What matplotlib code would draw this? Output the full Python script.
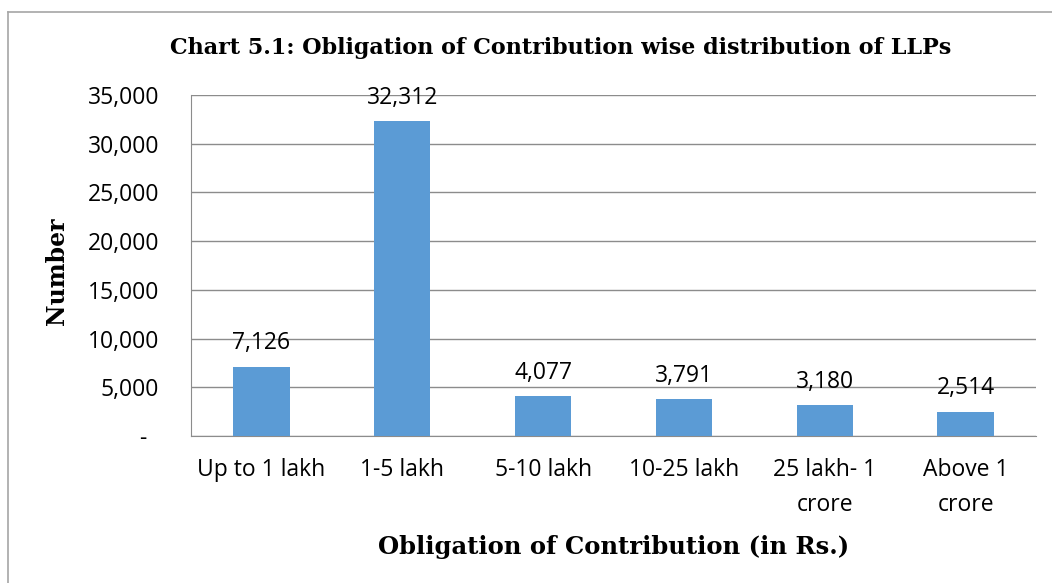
import numpy as np
import matplotlib
matplotlib.use("Agg")
import matplotlib.pyplot as plt
from matplotlib.lines import Line2D

categories = ["Up to 1 lakh", "1-5 lakh", "5-10 lakh", "10-25 lakh", "25 lakh- 1\ncrore", "Above 1\ncrore"]
counts = [7126, 32312, 4077, 3791, 3180, 2514]
yticks = [0, 5000, 10000, 15000, 20000, 25000, 30000, 35000]

sans = "Open Sans"
serif = "DejaVu Serif"
fs = 16.5

fig = plt.figure(figsize=(10.52, 5.83), dpi=100)
ax = fig.add_axes([0.1816, 0.2521, 0.8032, 0.5849])

x = np.arange(len(categories))
bars = ax.bar(x, counts, width=0.4, color="#5B9BD5", zorder=3)

for xi, v in zip(x, counts):
    ax.annotate(f"{v:,}", (xi, v), xytext=(0, 8), textcoords="offset points",
                ha="center", va="bottom", fontsize=fs, family=sans)

ax.set_xlim(-0.5, len(categories) - 0.5)
ax.set_ylim(0, 35000)
ax.set_yticks(yticks)
ax.set_yticklabels([f"{t:,}" if t else "-  " for t in yticks], fontsize=fs, family=sans)
ax.set_xticks(x)
ax.set_xticklabels(categories, fontsize=fs, family=sans, linespacing=1.6)
ax.tick_params(axis="y", length=0, pad=23)
ax.tick_params(axis="x", length=0, pad=16)

ax.grid(axis="y", color="#8c8c8c", lw=1, zorder=0)
for s in ["top", "right"]:
    ax.spines[s].set_visible(False)
ax.spines["left"].set_color("#8c8c8c")
ax.spines["bottom"].set_color("#8c8c8c")

fig.text(0.533, 0.918, "Chart 5.1: Obligation of Contribution wise distribution of LLPs",
         ha="center", va="center", fontsize=16, fontweight="bold", family=serif)
fig.text(0.054, 0.535, "Number", rotation=90, ha="center", va="center",
         fontsize=17, fontweight="bold", family=serif)
fig.text(0.583, 0.062, "Obligation of Contribution (in Rs.)", ha="center", va="center",
         fontsize=17.5, fontweight="bold", family=serif)

# chart frame like the Excel border
fig.add_artist(Line2D([8/1052, 1], [1 - 12/583, 1 - 12/583], color="#a6a6a6", lw=1.2))
fig.add_artist(Line2D([8/1052, 8/1052], [0, 1 - 12/583], color="#a6a6a6", lw=1.2))

plt.savefig("out.png", dpi=100)
